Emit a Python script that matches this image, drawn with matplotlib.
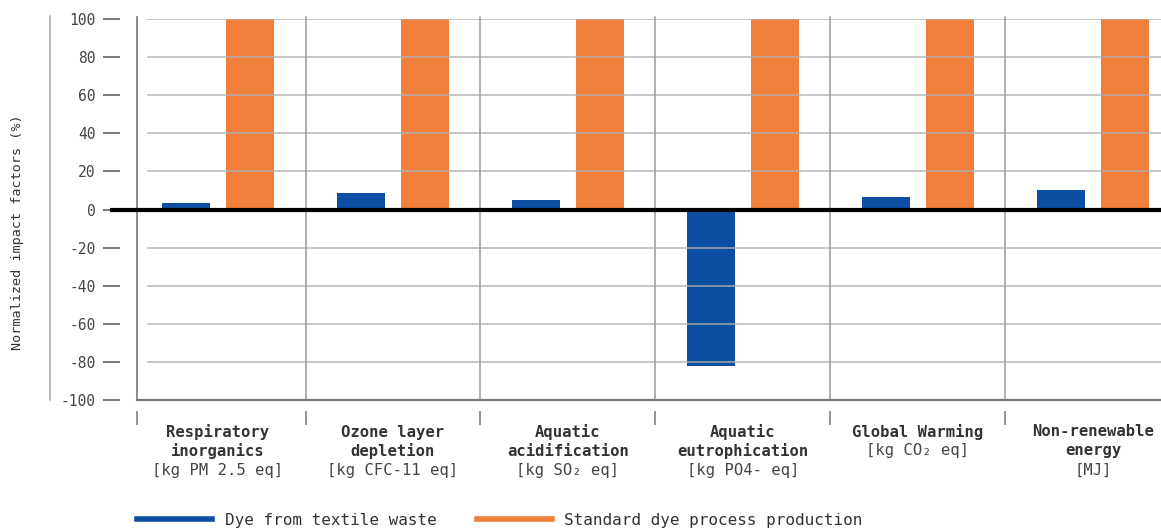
import matplotlib
matplotlib.use("Agg")
import matplotlib.pyplot as plt
import matplotlib.transforms as mtransforms
from matplotlib.lines import Line2D
import numpy as np

plt.rcParams['font.family'] = ['DejaVu Sans Mono', 'DejaVu Sans']
plt.rcParams['axes.unicode_minus'] = False

# data
names = [["Respiratory", "inorganics"],
         ["Ozone layer", "depletion"],
         ["Aquatic", "acidification"],
         ["Aquatic", "eutrophication"],
         ["Global Warming"],
         ["Non-renewable", "energy"]]
units = ["[kg PM 2.5 eq]", "[kg CFC-11 eq]", "[kg SO\u2082 eq]",
         "[kg PO4- eq]", "[kg CO\u2082 eq]", "[MJ]"]
textile = [3.5, 8.5, 5, -82, 6.5, 10]
standard = [100, 100, 100, 100, 100, 100]
series_names = ["Dye from textile waste", "Standard dye process production"]
yticks = [-100, -80, -60, -40, -20, 0, 20, 40, 60, 80, 100]

blue = '#0b4ea2'
orange = '#ef7f3a'
gridc = '#b0b0b0'

fig = plt.figure(figsize=(11.61, 5.29), dpi=100)
ax = fig.add_axes([137/1161, 129/529, 1024/1161, 381/529])

x = np.arange(len(units))
w = 0.275
off = 0.183
ax.bar(x - off, textile, w, color=blue, zorder=2)
ax.bar(x + off, standard, w, color=orange, zorder=2)

xl = (-0.463, 5.389)
ax.set_xlim(*xl)
ax.set_ylim(-100, 100)

# horizontal grid (drawn over bars)
for v in yticks:
    if v in (0, -100):
        continue
    ax.plot([-0.40, xl[1]], [v, v], color=gridc, lw=1.2, zorder=3, alpha=0.85)

# category separators
seps = np.arange(len(units) - 1) + 0.5
for s in seps:
    ax.plot([s, s], [-100, 101], color='#9a9a9a', lw=1.1, zorder=3, clip_on=False)
ax.plot([xl[0], xl[0]], [-100, 101], color='#777777', lw=1.2, zorder=3, clip_on=False)
ax.plot([xl[0], xl[1]], [-100, -100], color='#777777', lw=1.6, zorder=3, clip_on=False)

# zero line
ax.plot([-0.617, xl[1]], [0, 0], color='black', lw=3, zorder=4, clip_on=False, solid_capstyle='butt')

for sp in ax.spines.values():
    sp.set_visible(False)
ax.spines['left'].set_position(('outward', 12))
ax.spines['bottom'].set_position(('outward', 8))

ax.set_yticks(yticks)
ax.set_yticklabels([str(v) for v in yticks])
ax.tick_params(axis='y', length=12.2, width=1.1, color='#555555', pad=5.8,
               labelsize=10.5, labelcolor='#444444')
ax.set_xticks(np.concatenate([[xl[0]], seps]))
ax.set_xticklabels([])
ax.tick_params(axis='x', length=10, width=1.1, color='#777777')

# category labels
trans = mtransforms.blended_transform_factory(ax.transData, ax.transAxes)
for i in range(len(units)):
    lines = names[i]
    for k, t in enumerate(lines + [units[i]]):
        ax.annotate(t, xy=(x[i], 0), xycoords=trans,
                    xytext=(0, -(32 + 19 * k)), textcoords='offset pixels',
                    ha='center', va='center', fontsize=11.2,
                    fontweight='bold' if k < len(lines) else 'normal',
                    color='#333333' if k < len(lines) else '#444444')

# outer offset axis line
fig.add_artist(Line2D([50/1161, 50/1161], [(529-16)/529, (529-400)/529],
                      color='#aaaaaa', lw=1.1))

fig.text(18/1161, (529-232)/529, "Normalized impact factors (%)", rotation=90,
         ha='center', va='center', fontsize=9.7, color='#333333')

handles = [Line2D([], [], color=blue, lw=4), Line2D([], [], color=orange, lw=4)]
fig.legend(handles, series_names, loc='center left',
           bbox_to_anchor=(137/1161, 9/529), ncol=2, frameon=False,
           borderpad=0, borderaxespad=0, handlelength=4.7, handletextpad=0.8,
           columnspacing=2.5, prop={'size': 11.5}, labelcolor='#333333')

fig.savefig("out.png", dpi=100)
